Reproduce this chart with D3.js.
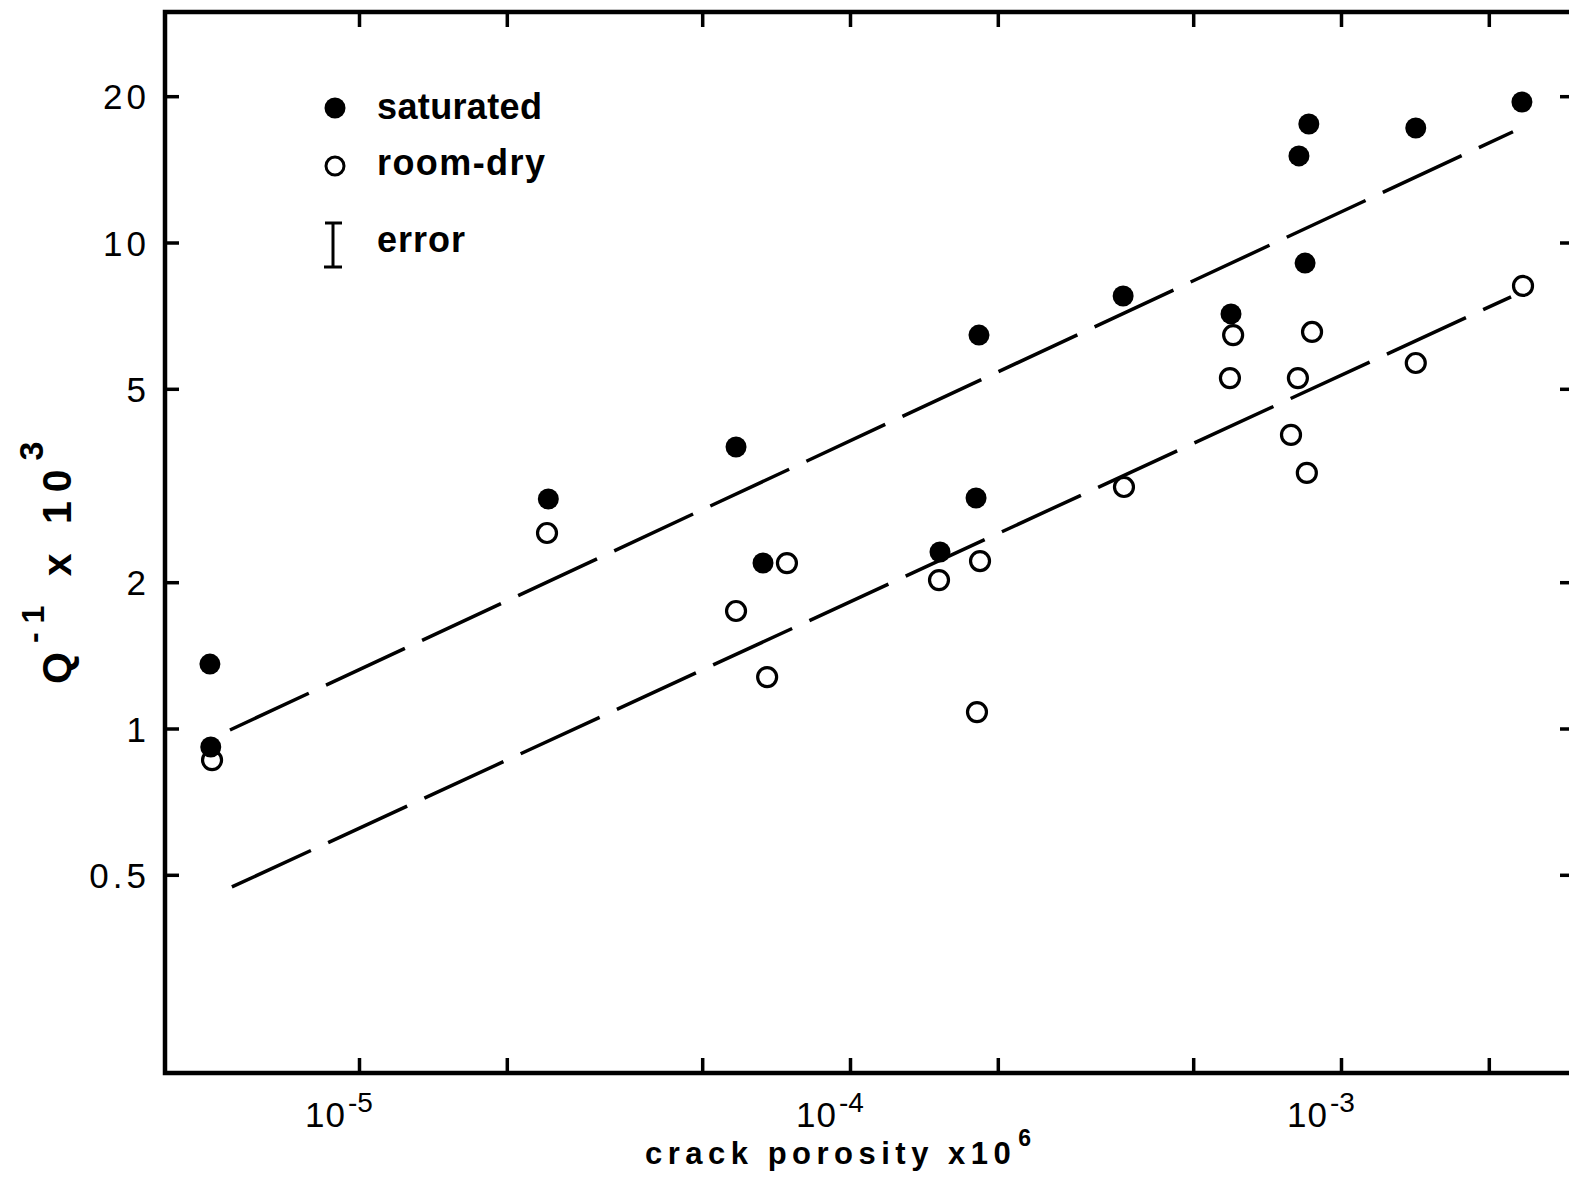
<!DOCTYPE html>
<html><head><meta charset="utf-8">
<script src="https://cdn.jsdelivr.net/npm/d3@7"></script>
<style>body{margin:0;background:#fff;} svg{display:block;}</style>
</head><body>
<svg id="chart" width="1569" height="1179"></svg>
<script>
// ---- data ----
const satPorosity = [4.97e-6, 4.99e-6, 2.43e-5, 5.86e-5, 6.65e-5, 1.525e-4, 1.806e-4, 1.831e-4, 3.60e-4, 5.97e-4, 8.21e-4, 8.60e-4, 8.45e-4, 1.42e-3, 2.336e-3];
const satQ        = [1.357, 0.916, 2.967, 3.795, 2.19, 2.308, 2.981, 6.45, 7.76, 7.13, 15.07, 17.53, 9.07, 17.2, 19.46];
const dryPorosity = [5.02e-6, 2.415e-5, 5.86e-5, 6.78e-5, 7.44e-5, 1.518e-4, 1.84e-4, 1.814e-4, 3.614e-4, 5.94e-4, 6.03e-4, 7.91e-4, 8.17e-4, 8.52e-4, 8.73e-4, 1.42e-3, 2.348e-3];
const dryQ        = [0.861, 2.525, 1.745, 1.276, 2.19, 2.02, 2.211, 1.081, 3.14, 5.26, 6.45, 4.018, 5.26, 3.356, 6.545, 5.65, 8.14];
const fitSatX = [5.46e-6, 2.24e-3];
const fitSatY = [0.993, 16.9];
const fitDryX = [5.51e-6, 2.22e-3];
const fitDryY = [0.472, 7.73];
const xMajorTicks = [1e-5, 1e-4, 1e-3];
const xMajorExp = ["-5", "-4", "-3"];
const xMinorTicks = [2e-5, 5e-5, 2e-4, 5e-4, 2e-3];
const yTicks = [0.5, 1, 2, 5, 10, 20];
const yTickLabels = ["0.5", "1", "2", "5", "10", "20"];
const legendLabels = ["saturated", "room-dry", "error"];

// ---- layout ----
const L = 165, R = 1575, T = 12, B = 1073;
const svg = d3.select("#chart");
const x = d3.scaleLog().domain([1e-5, 1e-3]).range([359, 1341]);
const y = d3.scaleLog().domain([1, 10]).range([728.5, 242.5]);
const font = "'Liberation Sans', Arial, sans-serif";

// ticks via axes
const allX = xMajorTicks.concat(xMinorTicks);
function styleAxis(g){ g.select(".domain").remove(); g.selectAll(".tick line").attr("stroke","#000").attr("stroke-width",3.5); }
svg.append("g").attr("transform",`translate(0,${B})`).call(d3.axisBottom(x).tickValues(allX).tickSize(-15).tickFormat("")).call(styleAxis);
svg.append("g").attr("transform",`translate(0,${T})`).call(d3.axisTop(x).tickValues(allX).tickSize(-15).tickFormat("")).call(styleAxis);
svg.append("g").attr("transform",`translate(${R},0)`).call(d3.axisRight(y).tickValues(yTicks).tickSize(-15).tickFormat("")).call(styleAxis);
const left = svg.append("g").attr("transform",`translate(${L},0)`)
  .call(d3.axisLeft(y).tickValues(yTicks).tickSize(-14).tickPadding(15).tickFormat((d,i)=>yTickLabels[i]))
  .call(styleAxis);
left.selectAll(".tick text").attr("font-family",font).attr("font-size",35).attr("fill","#000").attr("letter-spacing","4px").attr("dy","0.36em");

// frame
svg.append("rect").attr("x",L).attr("y",T).attr("width",R-L).attr("height",B-T)
  .attr("fill","none").attr("stroke","#000").attr("stroke-width",4.5);

// x tick labels
xMajorTicks.forEach((v,i)=>{
  const t = svg.append("text").attr("x", x(v)-54).attr("y",1127)
    .attr("font-family",font).attr("font-size",35).attr("fill","#000");
  t.append("tspan").text("10").attr("letter-spacing","1px");
  t.append("tspan").text(xMajorExp[i]).attr("font-size",28).attr("dy",-15).attr("dx",2);
});

// fitted dashed lines
const line = d3.line().x(d=>x(d[0])).y(d=>y(d[1]));
[[fitSatX,fitSatY],[fitDryX,fitDryY]].forEach(([xs,ys])=>{
  svg.append("path").datum(xs.map((v,i)=>[v,ys[i]])).attr("d",line)
    .attr("fill","none").attr("stroke","#000").attr("stroke-width",3.5).attr("stroke-dasharray","87,19");
});

// points
svg.append("g").selectAll("circle").data(dryPorosity.map((v,i)=>[v,dryQ[i]])).join("circle")
  .attr("cx",d=>x(d[0])).attr("cy",d=>y(d[1])).attr("r",9.5)
  .attr("fill","#fff").attr("stroke","#000").attr("stroke-width",3.2);
svg.append("g").selectAll("circle").data(satPorosity.map((v,i)=>[v,satQ[i]])).join("circle")
  .attr("cx",d=>x(d[0])).attr("cy",d=>y(d[1])).attr("r",10.5).attr("fill","#000");

// legend
svg.append("circle").attr("cx",335).attr("cy",108).attr("r",10.5).attr("fill","#000");
svg.append("circle").attr("cx",335).attr("cy",166).attr("r",9).attr("fill","#fff").attr("stroke","#000").attr("stroke-width",3);
const eb = svg.append("g").attr("stroke","#000").attr("stroke-width",3);
eb.append("line").attr("x1",333).attr("x2",333).attr("y1",223).attr("y2",267);
eb.append("line").attr("x1",325).attr("x2",342).attr("y1",223).attr("y2",223);
eb.append("line").attr("x1",324).attr("x2",342).attr("y1",267).attr("y2",267);
const legY = [119, 175, 252], legW = [165, 168, 88];
legendLabels.forEach((s,i)=>{
  svg.append("text").attr("x",377).attr("y",legY[i]).text(s)
    .attr("font-family",font).attr("font-weight","bold").attr("font-size",36)
    .attr("textLength",legW[i]).attr("lengthAdjust","spacing").attr("fill","#000");
});

// x axis title
const xt = svg.append("text").attr("x",645).attr("y",1164)
  .attr("font-family",font).attr("font-weight","bold").attr("font-size",31).attr("letter-spacing","5.5px").attr("fill","#000");
xt.append("tspan").text("crack porosity x10");
xt.append("tspan").text("6").attr("font-size",23).attr("dy",-18).attr("dx",2);

// y axis title
const yt = svg.append("text").attr("transform","translate(71,684) rotate(-90)")
  .attr("font-family",font).attr("font-weight","bold").attr("font-size",41).attr("letter-spacing","9px").attr("fill","#000");
yt.append("tspan").text("Q");
yt.append("tspan").text("-1").attr("font-size",32).attr("dy",-27);
yt.append("tspan").text(" x 10").attr("dy",27);
yt.append("tspan").text("3").attr("font-size",34).attr("dy",-28);
</script>
</body></html>
